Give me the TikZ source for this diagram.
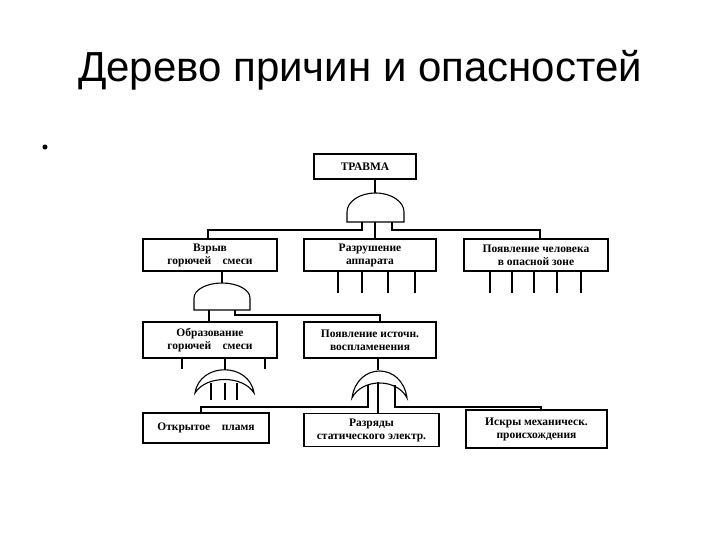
\documentclass[tikz,border=0pt]{standalone}
\usepackage{fontspec}
\setmainfont{Liberation Serif}
\newfontfamily\titlefont{Liberation Sans}
\begin{document}
\begin{tikzpicture}[x=1pt,y=-1pt,
  box/.style={draw,line width=1.2pt,inner sep=0pt,align=center,font=\fontsize{11.5}{13}\selectfont\bfseries},
  ln/.style={line width=1.1pt}]
\useasboundingbox (0,0) rectangle (720,540);
\node[font=\titlefont\fontsize{42}{46}\selectfont] (title) at (360,70) {Дерево причин и опасностей};
\node[circle,fill,inner sep=1.8pt] (bul) at (45,147) {};
% boxes
\node[box,minimum width=102pt,minimum height=25pt] (t) at (365,166.5) {ТРАВМА};
\node[box,minimum width=134pt,minimum height=32pt] (a) at (210,255) {Взрыв\\горючей\quad смеси};
\node[box,minimum width=132pt,minimum height=32pt] (b) at (370,255) {Разрушение\\аппарата};
\node[box,minimum width=144pt,minimum height=32pt] (c) at (536,255) {Появление человека\\в опасной зоне};
\node[box,minimum width=134pt,minimum height=36pt] (d) at (210,340) {Образование\\горючей\quad смеси};
\node[box,minimum width=132pt,minimum height=36pt] (e) at (370,340) {Появление источн.\\воспламенения};
\node[box,minimum width=126pt,minimum height=30pt] (f) at (206,428) {Открытое\quad пламя};
\node[box,minimum width=135pt,minimum height=33pt] (g) at (371.5,430) {Разряды\\статического электр.};
\node[box,minimum width=141pt,minimum height=38pt] (h) at (536.5,429) {Искры механическ.\\происхождения};
% AND gate 1
\draw[ln] (375,179) -- (375,193);
\draw[ln] (347,222) -- (347,212) arc[start angle=180,end angle=0,x radius=28.5,y radius=-19] -- (404,222) -- cycle;
\draw[ln] (362,222) -- (362,230) -- (208,230) -- (208,239);
\draw[ln] (375,222) -- (375,239);
\draw[ln] (392,222) -- (392,230) -- (540,230) -- (540,239);
\foreach \x in {338,362,388,415} \draw[ln] (\x,271) -- (\x,293);
\foreach \x in {490,512,534,557,581} \draw[ln] (\x,271) -- (\x,293);
% AND gate 2
\draw[ln] (222,271) -- (222,283);
\draw[ln] (194,310) -- (194,298) arc[start angle=180,end angle=0,x radius=28,y radius=-15] -- (250,310) -- cycle;
\draw[ln] (209,310) -- (209,322);
\draw[ln] (235,310) -- (235,315) -- (380,315) -- (380,322);
% under d
\foreach \x in {182,265} \draw[ln] (\x,358) -- (\x,369);
\draw[ln] (225,358) -- (225,370);
% OR gate 1
\draw[ln] (195,393) .. controls (200,362) and (249,362) .. (254,393) .. controls (243,375) and (206,375) .. cycle;
\foreach \x in {211,225,237} \draw[ln] (\x,383) -- (\x,400);
% OR gate 2
\draw[ln] (378,358) -- (378,370);
\draw[ln] (352,398) .. controls (357,362) and (402,362) .. (407,398) .. controls (397,378) and (362,378) .. cycle;
\draw[ln] (368,385) -- (368,407) -- (201,407) -- (201,413);
\draw[ln] (378,382) -- (378,413.5);
\draw[ln] (395,385) -- (395,407) -- (541,407) -- (541,410);
\end{tikzpicture}
\end{document}
